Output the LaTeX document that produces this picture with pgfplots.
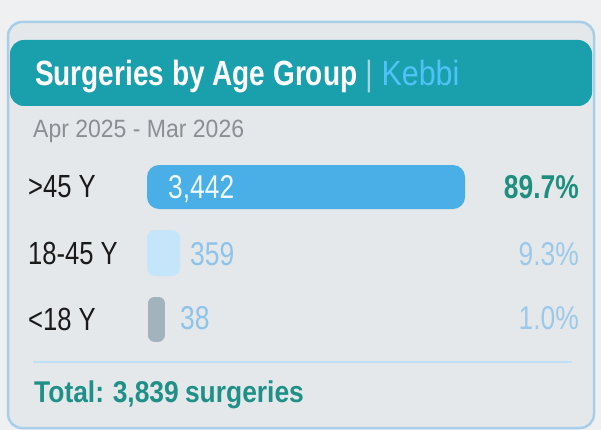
\documentclass[border=0pt]{standalone}
\usepackage{pgfplots}
\pgfplotsset{compat=1.18}
\usepackage{fontspec}
\setmainfont{Liberation Sans}[FakeStretch=0.8]
\newfontfamily\subfont{Liberation Sans}[FakeStretch=0.92]
\newfontfamily\totalfont{Liberation Sans}[FakeStretch=0.88,WordSpace=0.85]
\newfontfamily\kebbifont{Liberation Sans}[FakeStretch=0.87]
\definecolor{pagebg}{HTML}{EEF0F1}
\definecolor{cardbg}{HTML}{E4E8EA}
\definecolor{cardborder}{HTML}{A9CFE8}
\definecolor{headteal}{HTML}{1AA0AD}
\definecolor{kebbi}{HTML}{4FC3F7}
\definecolor{pipe}{HTML}{A8D4DC}
\definecolor{subgray}{HTML}{8A8F94}
\definecolor{rowtext}{HTML}{1A1A1A}
\definecolor{barA}{HTML}{4AAFE6}
\definecolor{barB}{HTML}{C5E6FA}
\definecolor{barC}{HTML}{A3B3BE}
\definecolor{vallight}{HTML}{8EC3EA}
\definecolor{pcttop}{HTML}{1E8E7E}
\definecolor{pctlight}{HTML}{9CC9EA}
\definecolor{totalc}{HTML}{1E9088}
\definecolor{sepline}{HTML}{BFE0F5}
\begin{document}
\begin{tikzpicture}[x=1pt,y=1pt]
\useasboundingbox (0,0) rectangle (601,-430);
\fill[pagebg] (0,0) rectangle (601,-430);
\draw[cardborder, line width=2.5pt, fill=cardbg, rounded corners=14pt] (8,-22) rectangle (594,-428);
\fill[headteal, rounded corners=14pt] (10,-40) rectangle (592,-106);
\node[anchor=base west, inner sep=0, text=white, font=\fontsize{35}{40}\selectfont\bfseries] at (35,-86) {Surgeries by Age Group\hspace{8pt}\textcolor{pipe}{\mdseries|}\hspace{9pt}\textcolor{kebbi}{\kebbifont\mdseries Kebbi}};
\node[anchor=base west, inner sep=0, text=subgray, font=\subfont\fontsize{25}{30}\selectfont] at (33,-138) {Apr 2025 - Mar 2026};
\begin{axis}[
  at={(147pt,-154pt)}, anchor=north west,
  scale only axis, width=318pt, height=198pt,
  xmin=0, xmax=3442, ymin=-0.5, ymax=2.5, y dir=reverse,
  axis line style={draw=none}, tick style={draw=none},
  xtick=\empty, ytick={0,1,2},
  yticklabels={{>45 Y},{18-45 Y},{<18 Y}},
  yticklabel style={anchor=west, inner sep=0pt, xshift=-119pt, text=rowtext, font=\fontsize{32}{36}\selectfont},
  clip=false,
]
\addplot[xbar, bar shift=0pt, bar width=44pt, fill=barA, draw=none, rounded corners=12pt] coordinates {(3442,0)};
\addplot[xbar, bar shift=0pt, bar width=46pt, fill=barB, draw=none, rounded corners=8pt] coordinates {(359,1)};
\addplot[xbar, bar shift=0pt, bar width=32pt, fill=barC, draw=barC, line width=13pt, line join=round, xshift=7.5pt] coordinates {(38,2)};
\end{axis}
\node[anchor=base west, inner sep=0, text=white!92!barA, font=\fontsize{33}{40}\selectfont] at (168,-198) {3,442};
\node[anchor=base west, inner sep=0, text=vallight, font=\fontsize{33}{40}\selectfont] at (190,-265) {359};
\node[anchor=base west, inner sep=0, text=vallight, font=\fontsize{33}{40}\selectfont] at (180,-329) {38};
\node[anchor=base east, inner sep=0, text=pcttop, font=\fontsize{33}{40}\selectfont\bfseries] at (579,-198) {89.7\%};
\node[anchor=base east, inner sep=0, text=pctlight, font=\fontsize{33}{40}\selectfont] at (579,-265) {9.3\%};
\node[anchor=base east, inner sep=0, text=pctlight, font=\fontsize{33}{40}\selectfont] at (579,-329) {1.0\%};
\draw[sepline, line width=2pt] (33,-362) -- (572,-362);
\node[anchor=base west, inner sep=0, text=totalc, font=\totalfont\fontsize{30}{36}\selectfont\bfseries] at (34,-402) {Total: 3,839 surgeries};
\end{tikzpicture}
\end{document}
